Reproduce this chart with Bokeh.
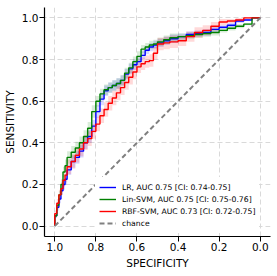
import numpy as np
from bokeh.plotting import figure
from bokeh.models import Range1d, FixedTicker
from bokeh.embed import file_html
from bokeh.resources import INLINE

# ---- data ----
specificity = [1.0, 0.99, 0.98, 0.97, 0.96, 0.95, 0.94, 0.92, 0.90, 0.88, 0.86, 0.84, 0.82, 0.80,
               0.78, 0.76, 0.74, 0.72, 0.70, 0.68, 0.66, 0.64, 0.62, 0.60, 0.58, 0.56, 0.54, 0.52,
               0.50, 0.47, 0.44, 0.40, 0.36, 0.32, 0.28, 0.24, 0.20, 0.16, 0.12, 0.08, 0.04, 0.0]

lr_sens = [0, 0.05, 0.09, 0.13, 0.17, 0.20, 0.225, 0.27, 0.31, 0.33, 0.36, 0.40, 0.43, 0.48,
           0.55, 0.61, 0.65, 0.665, 0.675, 0.685, 0.70, 0.73, 0.755, 0.775, 0.79, 0.82, 0.845, 0.86,
           0.87, 0.88, 0.89, 0.90, 0.91, 0.92, 0.925, 0.93, 0.945, 0.955, 0.965, 0.985, 0.99, 1.0]
lin_sens = [0, 0.05, 0.10, 0.15, 0.20, 0.26, 0.29, 0.33, 0.355, 0.375, 0.40, 0.43, 0.47, 0.55,
            0.60, 0.635, 0.655, 0.665, 0.675, 0.685, 0.70, 0.735, 0.76, 0.79, 0.815, 0.85, 0.86, 0.87,
            0.875, 0.885, 0.895, 0.905, 0.91, 0.915, 0.92, 0.925, 0.93, 0.94, 0.95, 0.96, 0.97, 1.0]
rbf_sens = [0, 0.06, 0.11, 0.15, 0.18, 0.22, 0.245, 0.285, 0.31, 0.34, 0.37, 0.40, 0.42, 0.455,
            0.49, 0.53, 0.56, 0.59, 0.615, 0.64, 0.665, 0.69, 0.715, 0.74, 0.765, 0.78, 0.79, 0.795,
            0.83, 0.875, 0.88, 0.885, 0.89, 0.91, 0.93, 0.94, 0.96, 0.98, 0.985, 0.99, 1.0, 1.0]

lr_ci_half = [0, 0.01, 0.015, 0.02, 0.02, 0.025, 0.025, 0.025, 0.03, 0.03, 0.03, 0.03, 0.03, 0.03,
              0.03, 0.03, 0.025, 0.025, 0.025, 0.025, 0.025, 0.025, 0.025, 0.025, 0.02, 0.02, 0.02, 0.02,
              0.02, 0.02, 0.02, 0.02, 0.015, 0.015, 0.015, 0.015, 0.015, 0.01, 0.01, 0.01, 0.005, 0]
lin_ci_half = [0, 0.01, 0.015, 0.02, 0.025, 0.025, 0.03, 0.03, 0.03, 0.03, 0.03, 0.03, 0.03, 0.03,
               0.025, 0.025, 0.025, 0.025, 0.025, 0.025, 0.025, 0.025, 0.025, 0.025, 0.025, 0.02, 0.02, 0.02,
               0.02, 0.02, 0.02, 0.02, 0.015, 0.015, 0.015, 0.015, 0.015, 0.01, 0.01, 0.01, 0.005, 0]
rbf_ci_half = [0, 0.015, 0.02, 0.025, 0.03, 0.03, 0.035, 0.035, 0.035, 0.035, 0.035, 0.035, 0.035, 0.035,
               0.035, 0.035, 0.035, 0.035, 0.035, 0.035, 0.035, 0.035, 0.035, 0.035, 0.03, 0.03, 0.03, 0.03,
               0.03, 0.03, 0.03, 0.03, 0.025, 0.025, 0.025, 0.025, 0.02, 0.015, 0.01, 0.01, 0.005, 0]

chance_spec = [1.0, 0.0]
chance_sens = [0.0, 1.0]

series_labels = ["LR, AUC 0.75 [CI: 0.74-0.75]",
                 "Lin-SVM, AUC 0.75 [CI: 0.75-0.76]",
                 "RBF-SVM, AUC 0.73 [CI: 0.72-0.75]",
                 "chance"]
series_colors = ["#0000ff", "#008000", "#ff0000"]

tick_values = [0.0, 0.2, 0.4, 0.6, 0.8, 1.0]
tick_labels = ["0.0", "0.2", "0.4", "0.6", "0.8", "1.0"]

FONT = "DejaVu Sans"

p = figure(frame_width=226, frame_height=229, output_backend="svg", toolbar_location=None,
           x_range=Range1d(1.05, -0.05), y_range=Range1d(-0.05, 1.05),
           min_border_left=44, min_border_right=7, min_border_top=7, min_border_bottom=40)
p.outline_line_color = None
p.background_fill_color = "white"

p.xaxis.axis_label = "SPECIFICITY"
p.yaxis.axis_label = "SENSITIVITY"
for ax in (p.xaxis[0], p.yaxis[0]):
    ax.ticker = FixedTicker(ticks=tick_values)
    ax.major_label_overrides = {v: s for v, s in zip(tick_values, tick_labels)}
    ax.major_label_text_font = FONT
    ax.major_label_text_font_size = "10.5px"
    ax.major_label_text_color = "#000000"
    ax.axis_label_text_font = FONT
    ax.axis_label_text_font_size = "10.5px"
    ax.axis_label_text_font_style = "normal"
    ax.axis_label_text_color = "#000000"
    ax.minor_tick_line_color = None
    ax.major_tick_out = 5
    ax.major_tick_in = 0
    ax.major_tick_line_color = "#000000"
    ax.axis_line_color = "#000000"
    ax.axis_line_width = 1.2
    ax.major_label_standoff = 1
    ax.axis_label_standoff = 3

p.grid.grid_line_color = "#d9d9d9"
p.grid.grid_line_dash = "5 3"
p.grid.grid_line_width = 1

all_sens = [lr_sens, lin_sens, rbf_sens]
all_half = [lr_ci_half, lin_ci_half, rbf_ci_half]

for sens, half, col in zip(all_sens, all_half, series_colors):
    s = np.array(sens)
    h = np.array(half)
    lo = np.clip(s - h, 0, 1)
    hi = np.clip(s + h, 0, 1)
    p.varea_step(x=specificity, y1=lo, y2=hi, step_mode="before",
                 fill_color=col, fill_alpha=0.15)

for sens, col, lab in zip(all_sens, series_colors, series_labels[:3]):
    p.step(x=specificity, y=sens, mode="before", line_color=col, line_width=1.4,
           legend_label=lab)

p.line(x=chance_spec, y=chance_sens, line_color="#808080", line_width=2,
       line_dash="5 3", legend_label=series_labels[3])

lg = p.legend[0]
lg.location = (51, 3)
lg.padding = 4
lg.spacing = 0
lg.margin = 0
lg.label_height = 12
lg.glyph_height = 12
lg.glyph_width = 17
lg.label_standoff = 6
lg.label_text_font = FONT
lg.label_text_font_size = "7.7px"
lg.label_text_color = "#000000"
lg.border_line_alpha = 0
lg.background_fill_color = "white"
lg.background_fill_alpha = 1.0

open("out.html", "w").write(file_html(p, INLINE))
